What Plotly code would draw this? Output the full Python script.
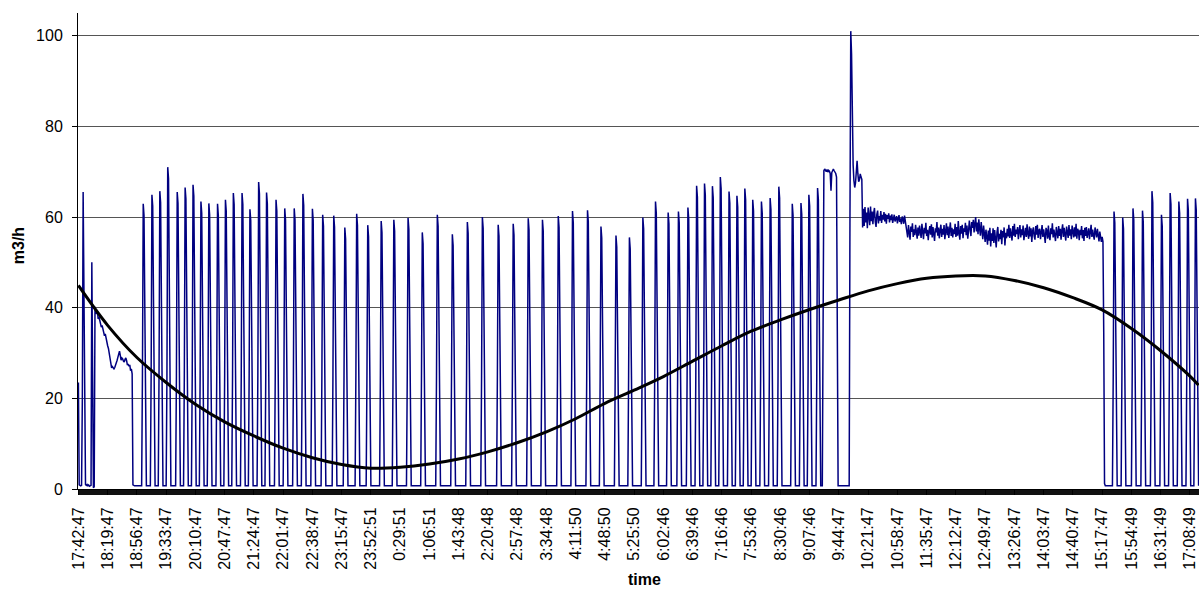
import numpy as np
import plotly.graph_objects as go

# ---- x axis: one sample per minute, a label every 37 samples ----
N_SAMPLES = 1418
LABEL_STEP = 37
TIME_LABELS = [
    "17:42:47", "18:19:47", "18:56:47", "19:33:47", "20:10:47", "20:47:47",
    "21:24:47", "22:01:47", "22:38:47", "23:15:47", "23:52:51", "0:29:51",
    "1:06:51", "1:43:48", "2:20:48", "2:57:48", "3:34:48", "4:11:50",
    "4:48:50", "5:25:50", "6:02:46", "6:39:46", "7:16:46", "7:53:46",
    "8:30:46", "9:07:46", "9:44:47", "10:21:47", "10:58:47", "11:35:47",
    "12:12:47", "12:49:47", "13:26:47", "14:03:47", "14:40:47", "15:17:47",
    "15:54:49", "16:31:49", "17:08:49",
]

# ---- flow rate (m3/h) ----
OFF_FLOW = 0.7  # flow between pump runs

# samples 0..69: start-up and the slow decline after it
START_SEGMENT = [
    23.5, 0.9, 0.8, 0.7, 0.8, 20.0, 65.5, 48.0, 33.0, 1.0,
    0.8, 1.0, 0.7, 0.9, 0.6, 0.8, 0.8, 50.0, 22.0, 0.3, 0.5,
    40.2, 39.0, 38.6, 39.3, 37.5, 38.0, 37.0, 36.4, 35.7, 36.1,
    35.3, 34.6, 33.8, 34.2, 33.0, 32.5, 31.6, 31.0, 29.8, 29.1,
    27.9, 26.7, 27.0, 26.7, 26.5, 26.8, 27.2, 27.6, 28.4, 29.1,
    29.8, 30.4, 29.5, 28.4, 28.9, 28.7, 28.2, 28.0, 28.6, 28.9,
    28.3, 27.3, 27.6, 27.1, 27.4, 26.1, 26.5, 25.4, 0.9,
]

# short pump runs: sample index of each peak and its peak flow
PEAK_IDX = [
    82, 93, 103, 113, 125, 135, 145, 155, 165, 176,
    186, 196, 207, 217, 228, 238, 250, 261, 273, 284,
    296, 309, 323, 337, 352, 366, 383, 399, 417, 435,
    454, 473, 492, 511, 531, 550, 569, 587, 607, 625,
    644, 661, 680, 697, 714, 730, 746, 759, 771, 782,
    792, 802, 812, 823, 833, 843, 853, 864, 875, 886,
    903, 914, 924, 935,
    1310, 1321, 1334, 1346, 1358, 1370, 1381, 1392, 1403, 1413,
]
PEAK_VAL = [
    62.9, 64.9, 65.7, 71.0, 65.5, 66.5, 67.1, 63.4, 63.0, 62.9,
    63.8, 65.3, 65.3, 61.7, 67.7, 65.4, 63.8, 61.9, 61.9, 65.1,
    61.8, 60.5, 60.3, 57.7, 60.7, 58.2, 59.1, 59.4, 59.8, 56.6,
    60.5, 56.2, 58.9, 60.0, 58.3, 58.5, 59.7, 59.4, 60.2, 61.3,
    61.5, 57.9, 55.9, 55.5, 59.9, 63.4, 61.0, 61.2, 62.1, 66.9,
    67.4, 66.8, 68.8, 65.6, 64.7, 66.3, 63.8, 63.4, 64.2, 66.7,
    62.9, 63.1, 64.9, 66.4,
    61.2, 59.9, 61.9, 61.4, 65.7, 60.5, 65.3, 63.4, 64.0, 64.1,
]
# shape of one run around its peak: (offset from peak, flow);
# None = the peak itself, negative = that much below the peak
PULSE_SHAPE = [(-1, 25.0), (0, None), (1, -2.5), (2, 37.0), (3, 12.0)]

# longer run before the stop (samples 942..960)
HIGH_RUN_START = 942
HIGH_RUN = [36.0, 70.2, 70.6, 70.4, 70.0, 70.5, 69.9, 70.3, 70.1, 69.6,
            65.8, 69.8, 70.4, 70.6, 70.2, 70.0, 69.6, 68.8, 36.0]

# restart surge (samples 976..992)
SURGE_START = 976
SURGE = [60.0, 101.0, 96.0, 80.0, 71.5, 68.0, 66.5, 67.5, 70.0, 72.4,
         69.5, 67.8, 68.2, 69.5, 68.8, 68.3, 57.7]

# continuous operation (samples 993..1295)
STEADY_START = 993
STEADY = [
    61.8, 58.0, 62.2, 58.8, 61.0, 57.5, 62.1, 60.2, 58.2, 62.3,
    59.1, 61.2, 58.4, 60.9, 62.0, 58.9, 57.8, 60.6, 61.4, 58.6,
    60.2, 59.2, 61.3, 58.7, 60.5, 59.4, 61.1, 59.0, 60.7, 58.5,
    60.4, 59.6, 60.8, 58.8, 60.3, 59.3, 60.6, 58.7, 60.1, 60.5,
    59.0, 59.9, 60.2, 58.6, 59.8, 60.4, 58.9, 59.7, 58.4, 60.1,
    59.5, 58.5, 60.3, 59.2, 58.7,
    57.4, 55.5, 58.2, 56.2, 55.0, 57.9, 56.7, 58.6, 55.6, 57.3,
    56.0, 58.3, 56.5, 55.2, 57.7, 55.9, 58.1, 56.3, 55.4, 58.5,
    56.8, 55.1, 57.6, 56.4, 58.7, 55.8, 57.2, 54.9, 56.9, 58.0,
    56.1, 58.4, 55.5, 57.8, 56.2, 54.7, 57.5, 56.6, 58.9, 55.9,
    57.7, 55.3, 57.0, 58.3, 55.6, 57.4, 56.1, 58.2, 55.1, 56.8,
    58.6, 56.0, 57.9, 55.4, 57.0, 58.8, 55.8, 57.6, 55.5, 57.3,
    56.2, 58.5, 55.6, 57.8, 55.9, 59.1, 56.4, 55.0, 58.0, 56.3,
    58.3, 55.3, 57.5, 56.7, 58.7, 56.0, 58.1, 55.2, 56.9, 59.2,
    57.3, 55.8, 58.9, 57.6, 59.4, 56.6, 58.5, 60.0, 56.8, 58.8,
    56.2, 59.5, 57.4, 55.9, 58.9, 57.0, 55.1, 58.1, 56.0, 54.5,
    57.2, 55.3, 53.9, 57.0, 54.8, 57.6, 53.5, 56.4, 54.7, 57.5,
    54.3, 57.1, 55.0, 53.3, 56.7, 57.8, 54.6, 56.3, 55.1, 57.2,
    54.0, 56.9, 55.5, 57.7, 53.7, 56.5, 55.3, 57.4, 55.7, 58.3,
    55.4, 57.5, 56.1, 54.8, 58.0, 55.9, 58.5, 55.6, 57.2, 56.2,
    57.8, 55.1, 57.0, 58.2, 55.5, 57.3, 56.0, 58.1, 54.9, 57.1,
    57.6, 55.6, 58.4, 56.3, 55.2, 57.9, 55.7, 57.5, 54.5, 56.9,
    57.7, 55.8, 55.0, 58.0, 56.1, 58.3, 55.4, 57.1, 57.4, 55.1,
    56.8, 58.2, 55.6, 57.3, 55.9, 54.3, 57.6, 57.0, 55.2, 58.1,
    55.7, 54.9, 57.5, 56.2, 58.6, 55.5, 57.2, 56.0, 54.7, 57.8,
    56.9, 55.3, 58.0, 55.8, 57.4, 55.0, 57.1, 58.4, 55.6, 57.6,
    56.1, 54.8, 57.9, 57.0, 55.4, 58.2, 55.9, 57.3, 55.1, 58.1,
    56.8, 55.5, 57.7, 55.7, 58.5, 55.2, 57.4, 56.9, 54.9, 57.2,
    56.0, 58.0, 55.3, 57.1, 54.7, 57.6, 55.8, 57.8, 55.4, 56.7,
    57.5, 55.1, 57.0, 58.3, 55.6, 57.2, 55.9, 55.0, 57.7, 56.1,
    55.5, 57.4, 55.7, 54.6, 56.8, 55.2, 54.5, 55.6,
]
# shutdown at the end of continuous operation (samples 1296..1298)
STOP_START = 1296
STOP = [54.6, 34.6, 1.2]

# polynomial trend line, read at each labelled sample and at the last one
TREND_IDX = [k * LABEL_STEP for k in range(len(TIME_LABELS))] + [N_SAMPLES - 1]
TREND_VAL = [
    44.9, 36.1, 29.0, 23.5, 18.7, 14.8, 11.7, 9.0, 6.9, 5.4,
    4.6, 4.8, 5.5, 6.6, 8.2, 10.2, 12.6, 15.5, 18.9, 21.8,
    24.8, 28.2, 31.6, 34.8, 37.3, 39.6, 41.7, 43.7, 45.3, 46.5,
    47.0, 47.0, 46.0, 44.4, 42.2, 39.5, 35.4, 30.5, 24.9, 22.9,
]

# ---- assemble the flow series ----
flow = np.full(N_SAMPLES, OFF_FLOW)
flow[:len(START_SEGMENT)] = START_SEGMENT
for p, v in zip(PEAK_IDX, PEAK_VAL):
    for off, val in PULSE_SHAPE:
        i = p + off
        if 0 <= i < N_SAMPLES:
            if val is None:
                flow[i] = v
            elif val < 0:
                flow[i] = v + val
            else:
                flow[i] = val
flow[HIGH_RUN_START:HIGH_RUN_START + len(HIGH_RUN)] = HIGH_RUN
flow[SURGE_START:SURGE_START + len(SURGE)] = SURGE
flow[STEADY_START:STEADY_START + len(STEADY)] = STEADY
flow[STOP_START:STOP_START + len(STOP)] = STOP

x = np.arange(N_SAMPLES)

FONT = "Liberation Sans, Arial, sans-serif"

fig = go.Figure()
fig.add_trace(go.Scatter(
    x=x, y=flow, mode="lines",
    line=dict(color="#000080", width=1.5),
    hoverinfo="skip", showlegend=False,
))
fig.add_trace(go.Scatter(
    x=TREND_IDX, y=TREND_VAL, mode="lines",
    line=dict(color="#000000", width=3, shape="spline", smoothing=1.0),
    hoverinfo="skip", showlegend=False,
))

fig.update_layout(
    width=1200, height=591,
    margin=dict(l=78, r=1, t=13, b=102),
    paper_bgcolor="white", plot_bgcolor="white",
    font=dict(family=FONT, size=16, color="#000"),
    xaxis=dict(
        range=[-0.5, N_SAMPLES - 0.5],
        tickmode="array",
        tickvals=TREND_IDX[:-1],
        ticktext=TIME_LABELS,
        tickangle=-90,
        ticks="outside", ticklen=5, tickcolor="#000", tickwidth=1,
        ticklabelstandoff=6,
        minor=dict(ticks="outside", ticklen=5, tickmode="linear",
                   tick0=0, dtick=1, tickcolor="#111", tickwidth=1,
                   showgrid=False),
        showline=True, linecolor="#000", linewidth=1,
        showgrid=False, zeroline=False,
        tickfont=dict(family=FONT, size=16, color="#000"),
    ),
    yaxis=dict(
        range=[0, 105],
        tickmode="array", tickvals=[0, 20, 40, 60, 80, 100],
        ticks="outside", ticklen=5, tickcolor="#000", tickwidth=1,
        ticklabelstandoff=6,
        showline=True, linecolor="#000", linewidth=1,
        showgrid=True, gridcolor="#555555", gridwidth=1,
        zeroline=False,
        tickfont=dict(family=FONT, size=16, color="#000"),
    ),
    annotations=[
        dict(text="<b>time</b>", xref="paper", yref="paper",
             x=0.505, y=-0.212, xanchor="center", yanchor="bottom",
             showarrow=False, font=dict(family=FONT, size=16, color="#000")),
        dict(text="<b>m3/h</b>", xref="paper", yref="paper",
             x=-0.0536, y=0.512, xanchor="center", yanchor="middle",
             textangle=-90, showarrow=False,
             font=dict(family=FONT, size=16, color="#000")),
    ],
)

fig.write_html("out.html")
